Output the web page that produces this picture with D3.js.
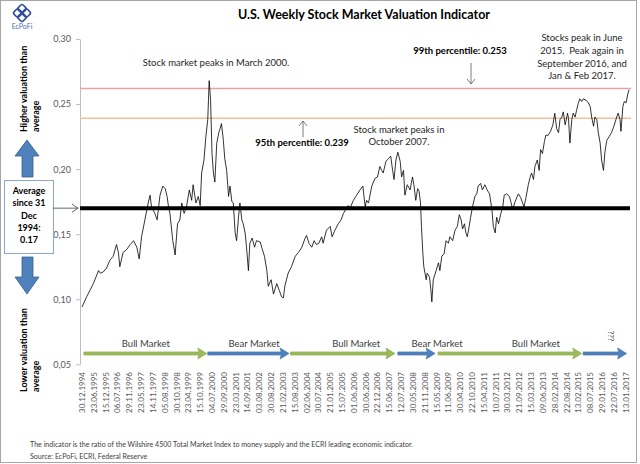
<!DOCTYPE html>
<html>
<head>
<meta charset="utf-8">
<script src="https://cdn.jsdelivr.net/npm/d3@7"></script>
<style>
  body { margin: 0; background: #fff; }
  text { font-family: Lato, "Noto Sans", sans-serif; }
</style>
</head>
<body>
<script>
// weekly indicator (week number since 30.12.1994, value)
var weeks = [
    0, 10, 24, 35, 39, 45, 52, 59, 66, 73, 77, 80, 87, 94, 102, 109, 116, 121, 126, 133,
    140, 144, 147, 154, 159, 165, 171, 176, 180, 183, 186, 192, 197, 202, 207, 211, 216, 221, 227, 232,
    235, 241, 246, 250, 253, 258, 262, 266, 269, 272, 275, 278, 281, 285, 290, 292, 295, 299, 302, 306,
    310, 313, 317, 320, 324, 327, 331, 334, 338, 341, 345, 348, 352, 355, 360, 365, 369, 377, 380, 386,
    391, 394, 400, 405, 412, 417, 422, 426, 429, 436, 443, 451, 458, 465, 472, 475, 480, 486, 491, 496,
    501, 507, 510, 517, 525, 529, 535, 542, 548, 553, 558, 563, 567, 574, 581, 588, 594, 599, 602, 606,
    613, 620, 625, 630, 634, 637, 643, 648, 653, 657, 660, 664, 668, 673, 676, 680, 683, 688, 694, 699,
    702, 706, 710, 713, 716, 718, 721, 723, 728, 730, 735, 738, 740, 743, 749, 754, 757, 761, 766, 770,
    775, 778, 784, 789, 794, 798, 802, 805, 809, 812, 815, 819, 822, 826, 831, 835, 838, 843, 847, 852,
    857, 862, 867, 870, 874, 877, 881, 886, 890, 893, 898, 904, 907, 911, 916, 923, 928, 932, 935, 939,
    944, 948, 951, 955, 958, 963, 967, 970, 974, 978, 981, 986, 991, 996, 1000, 1004, 1008, 1011, 1015, 1018,
    1022, 1027, 1029, 1032, 1036, 1039, 1043, 1046, 1050, 1053, 1057, 1060, 1066, 1071, 1075, 1078, 1082, 1085, 1089, 1092,
    1096, 1099, 1103, 1106, 1110, 1115, 1120, 1125, 1131, 1134, 1138, 1140, 1144, 1147, 1151, 1154, 1157
];
var values = [
    .094, .102, .112, .122, .120, .121, .124, .130, .133, .142, .136, .125, .136, .138, .142, .145, .140, .131, .148, .161,
    .174, .180, .171, .166, .161, .180, .187, .185, .179, .171, .166, .145, .134, .158, .161, .174, .166, .171, .184, .176,
    .188, .174, .179, .172, .197, .207, .225, .238, .268, .253, .212, .197, .190, .220, .229, .231, .235, .222, .208, .199,
    .179, .187, .175, .174, .151, .145, .163, .174, .161, .158, .151, .140, .122, .143, .147, .140, .145, .144, .140, .133,
    .122, .110, .115, .104, .112, .107, .102, .101, .110, .120, .125, .133, .136, .140, .147, .149, .143, .140, .145, .142,
    .143, .148, .143, .153, .156, .148, .153, .158, .161, .166, .169, .172, .170, .176, .180, .184, .187, .171, .176, .174,
    .187, .193, .194, .202, .199, .197, .206, .208, .210, .199, .192, .207, .213, .206, .194, .199, .180, .188, .184, .194,
    .188, .176, .185, .183, .174, .156, .135, .125, .115, .120, .117, .107, .098, .115, .122, .128, .122, .133, .135, .145,
    .143, .148, .145, .153, .156, .165, .161, .154, .158, .151, .148, .156, .163, .171, .179, .181, .187, .189, .184, .188,
    .184, .181, .169, .156, .151, .163, .158, .166, .171, .180, .181, .179, .175, .169, .175, .181, .178, .174, .171, .178,
    .188, .194, .197, .192, .202, .207, .199, .215, .212, .221, .226, .226, .229, .234, .243, .231, .228, .238, .240, .244,
    .234, .243, .239, .220, .238, .243, .240, .245, .251, .254, .252, .254, .253, .251, .248, .240, .233, .240, .238, .228,
    .220, .207, .199, .213, .222, .225, .228, .233, .240, .243, .238, .229, .248, .252, .251, .257, .261
];

// one category label every 25 weeks
var tickLabels = [
    "30.12.1994", "23.06.1995", "15.12.1995", "06.07.1996", "29.11.1996", "23.05.1997", "14.11.1997",
    "05.08.1998", "30.10.1998", "23.04.1999", "15.10.1999", "04.07.2000", "29.09.2000", "23.03.2001",
    "14.09.2001", "03.08.2002", "30.08.2002", "21.02.2003", "15.08.2003", "02.06.2004", "30.07.2004",
    "21.01.2005", "15.07.2005", "01.06.2006", "30.06.2006", "22.12.2006", "15.06.2007", "12.07.2007",
    "30.05.2008", "21.11.2008", "15.05.2009", "11.06.2009", "30.04.2010", "22.10.2010", "15.04.2011",
    "10.07.2011", "30.03.2012", "21.09.2012", "15.03.2013", "09.06.2013", "28.02.2014", "22.08.2014",
    "13.02.2015", "08.07.2015", "29.01.2016", "22.07.2016", "13.01.2017"
];
var weeksPerLabel = 25;
var yTicks = [0.05, 0.10, 0.15, 0.20, 0.25, 0.30];

var average = 0.17;
var pct95 = 0.239;
var pct99Line = 0.262;   // drawn here in the original, labelled 0.253
var pct99Label = "0.253";

// market phases (week numbers)
var phaseNames = ["Bull Market", "Bear Market", "Bull Market", "Bear Market", "Bull Market", "???"];
var phaseStart = [4, 266, 441, 668, 753, 1060];
var phaseEnd   = [264, 438, 662, 747, 1057, 1152];
var phaseLabelAt = [135, 364, 580, 751, 960, 1119];
var phaseBull  = [true, false, true, false, true, false];

function init() {
    var w = 640;
    var h = 464;

    var svg = d3.select("body")
                .append("svg")
                .attr("width", w)
                .attr("height", h);

    // outer frame
    svg.append("rect")
        .attr("x", 0.5).attr("y", 0.5)
        .attr("width", 636).attr("height", 462)
        .attr("fill", "#fff")
        .attr("stroke", "#a6a6a6");

    var xScale = d3.scaleLinear()
                   .domain([0, 1157])
                   .range([82, 629]);

    var yScale = d3.scaleLinear()
                   .domain([0.05, 0.30])
                   .range([364.3, 39]);

    var x0 = 80, x1 = 631;

    // title
    svg.append("text")
        .attr("x", 364).attr("y", 19)
        .attr("text-anchor", "middle")
        .attr("font-size", "12.5px")
        .attr("font-weight", "bold")
        .attr("fill", "#000")
        .text("U.S. Weekly Stock Market Valuation Indicator");

    // EcPoFi logo, a small knot of rings
    var logo = svg.append("g").attr("transform", "translate(22,13) rotate(45)");
    [[-3, -3], [3, -3], [-3, 3], [3, 3]].forEach(function (p) {
        logo.append("rect")
            .attr("x", p[0] - 3.5).attr("y", p[1] - 3.5)
            .attr("width", 7).attr("height", 7).attr("rx", 2)
            .attr("fill", "none")
            .attr("stroke", "#2f4f9a")
            .attr("stroke-width", 1.6);
    });
    svg.append("text")
        .attr("x", 22).attr("y", 29)
        .attr("text-anchor", "middle")
        .attr("font-size", "7px")
        .attr("fill", "#4a6fb5")
        .text("EcPoFi");

    // y axis
    var yAxis = d3.axisLeft(yScale)
                  .tickValues(yTicks)
                  .tickSize(4)
                  .tickSizeOuter(0)
                  .tickFormat(function (d) { return d.toFixed(2).replace(".", ","); });

    var gy = svg.append("g")
        .attr("class", "y axis")
        .attr("transform", "translate(" + x0 + ",0)")
        .call(yAxis);
    gy.select(".domain").attr("stroke", "#bfbfbf");
    gy.selectAll(".tick line").attr("stroke", "#bfbfbf");
    gy.selectAll(".tick text")
        .attr("font-family", "Lato, sans-serif")
        .attr("font-size", "9px")
        .attr("fill", "#595959")
        .attr("x", -9);

    // x labels, rotated
    svg.selectAll("text.xlab")
        .data(tickLabels)
        .enter()
        .append("text")
        .attr("class", "xlab")
        .attr("transform", function (d, i) {
            return "translate(" + (xScale(i * weeksPerLabel) + 3) + ",372) rotate(-90)";
        })
        .attr("text-anchor", "end")
        .attr("font-size", "8px")
        .attr("fill", "#595959")
        .text(function (d) { return d; });

    // percentile lines
    svg.append("line")
        .attr("x1", x0).attr("x2", x1)
        .attr("y1", yScale(pct99Line)).attr("y2", yScale(pct99Line))
        .attr("stroke", "#e6a3a0").attr("stroke-width", 1.5);
    svg.append("line")
        .attr("x1", x0).attr("x2", x1)
        .attr("y1", yScale(pct95)).attr("y2", yScale(pct95))
        .attr("stroke", "#f6bf98").attr("stroke-width", 1.5);

    // indicator
    var series = weeks.map(function (d, i) { return [d, values[i]]; });
    var line = d3.line()
                 .x(function (d) { return xScale(d[0]); })
                 .y(function (d) { return yScale(d[1]); });
    svg.append("path")
        .datum(series)
        .attr("d", line)
        .attr("fill", "none")
        .attr("stroke", "#000")
        .attr("stroke-width", 0.8);

    // average line
    svg.append("line")
        .attr("x1", x0).attr("x2", 630)
        .attr("y1", yScale(average)).attr("y2", yScale(average))
        .attr("stroke", "#000").attr("stroke-width", 4);

    // average box on the left
    svg.append("rect")
        .attr("x", 4.5).attr("y", 180.5)
        .attr("width", 49).attr("height", 73)
        .attr("fill", "#fff")
        .attr("stroke", "#8ea6c8");
    var boxLines = ["Average", "since 31", "Dec", "1994:", average.toFixed(2)];
    svg.selectAll("text.box")
        .data(boxLines)
        .enter()
        .append("text")
        .attr("class", "box")
        .attr("x", 29)
        .attr("y", function (d, i) { return 194 + i * 12.3; })
        .attr("text-anchor", "middle")
        .attr("font-size", "9px")
        .attr("font-weight", "bold")
        .attr("fill", "#000")
        .text(function (d) { return d; });

    // pointer from box to the axis
    var ya = yScale(average);
    svg.append("line")
        .attr("x1", 53).attr("x2", 78)
        .attr("y1", ya).attr("y2", ya)
        .attr("stroke", "#404040").attr("stroke-width", 0.8);
    svg.append("path")
        .attr("d", "M72," + (ya - 4) + " L78," + ya + " L72," + (ya + 4))
        .attr("fill", "none").attr("stroke", "#404040").attr("stroke-width", 0.8);

    // blue block arrows
    svg.append("path")
        .attr("d", "M27,140 L39,156 L33,156 L33,177 L22,177 L22,156 L15,156 Z")
        .attr("fill", "#4f81bd").attr("stroke", "#385d8a").attr("stroke-width", 0.8);
    svg.append("path")
        .attr("d", "M22,257 L33,257 L33,277 L39,277 L27,294 L15,277 L22,277 Z")
        .attr("fill", "#4f81bd").attr("stroke", "#385d8a").attr("stroke-width", 0.8);

    // side captions
    function sideText(x, y, t) {
        svg.append("text")
            .attr("transform", "translate(" + x + "," + y + ") rotate(-90)")
            .attr("font-size", "9px")
            .attr("font-weight", "bold")
            .attr("fill", "#000")
            .text(t);
    }
    sideText(27, 132, "Higher valuation than");
    sideText(39, 132, "average");
    sideText(27, 392, "Lower valuation than");
    sideText(39, 392, "average");

    // annotations
    function note(x, y, t, bold) {
        svg.append("text")
            .attr("x", x).attr("y", y)
            .attr("text-anchor", "middle")
            .attr("font-size", "9.5px")
            .attr("font-weight", bold ? "bold" : "normal")
            .attr("fill", bold ? "#000" : "#262626")
            .text(t);
    }
    note(216, 66, "Stock market peaks in March 2000.");
    note(460, 54, "99th percentile: " + pct99Label, true);
    note(302, 146, "95th percentile: " + pct95.toFixed(3), true);
    note(399, 133, "Stock market peaks in");
    note(399, 145, "October 2007.");
    ["Stocks peak in June", "2015.\u00a0 Peak again in", "September 2016, and", "Jan & Feb 2017."]
        .forEach(function (t, i) { note(582, 41 + i * 12.8, t); });

    // thin pointer arrows for the percentiles
    svg.append("line")
        .attr("x1", 471).attr("x2", 471).attr("y1", 63).attr("y2", 84)
        .attr("stroke", "#595959").attr("stroke-width", 0.8);
    svg.append("path")
        .attr("d", "M467,79 L471,84 L475,79")
        .attr("fill", "none").attr("stroke", "#595959").attr("stroke-width", 0.8);
    svg.append("line")
        .attr("x1", 303).attr("x2", 303).attr("y1", 137).attr("y2", 121)
        .attr("stroke", "#595959").attr("stroke-width", 0.8);
    svg.append("path")
        .attr("d", "M299,126 L303,121 L307,126")
        .attr("fill", "none").attr("stroke", "#595959").attr("stroke-width", 0.8);

    // market phase arrows
    var ay = 353.5;
    var phases = svg.selectAll("g.phase")
        .data(phaseNames)
        .enter()
        .append("g")
        .attr("class", "phase");
    phases.append("path")
        .attr("d", function (d, i) {
            var a = xScale(phaseStart[i]), b = xScale(phaseEnd[i]);
            return "M" + a + "," + (ay - 1.6) + " L" + (b - 8) + "," + (ay - 1.6) +
                   " L" + (b - 9) + "," + (ay - 5.5) + " L" + b + "," + ay +
                   " L" + (b - 9) + "," + (ay + 5.5) + " L" + (b - 8) + "," + (ay + 1.6) +
                   " L" + a + "," + (ay + 1.6) + " Z";
        })
        .attr("fill", function (d, i) { return phaseBull[i] ? "#9bbb59" : "#4f81bd"; })
        .attr("stroke", function (d, i) { return phaseBull[i] ? "#8aa84e" : "#436fa3"; })
        .attr("stroke-width", 0.6);
    phases.append("text")
        .attr("transform", function (d, i) {
            var x = xScale(phaseLabelAt[i]);
            return d === "???" ? "translate(" + (x - 3) + ",336) rotate(90)"
                               : "translate(" + x + ",346.5)";
        })
        .attr("text-anchor", "middle")
        .attr("font-size", function (d) { return d === "???" ? "8px" : "9.5px"; })
        .attr("fill", "#404040")
        .text(function (d) { return d; });

    // footer
    svg.append("text")
        .attr("x", 30).attr("y", 447)
        .attr("font-size", "7.1px")
        .attr("fill", "#404040")
        .text("The indicator is the ratio of the Wilshire 4500 Total Market Index to money supply and the ECRI leading economic indicator.");
    svg.append("text")
        .attr("x", 30).attr("y", 459)
        .attr("font-size", "7.1px")
        .attr("fill", "#404040")
        .text("Source: EcPoFi, ECRI, Federal Reserve");
}

window.onload = init;
</script>
</body>
</html>
